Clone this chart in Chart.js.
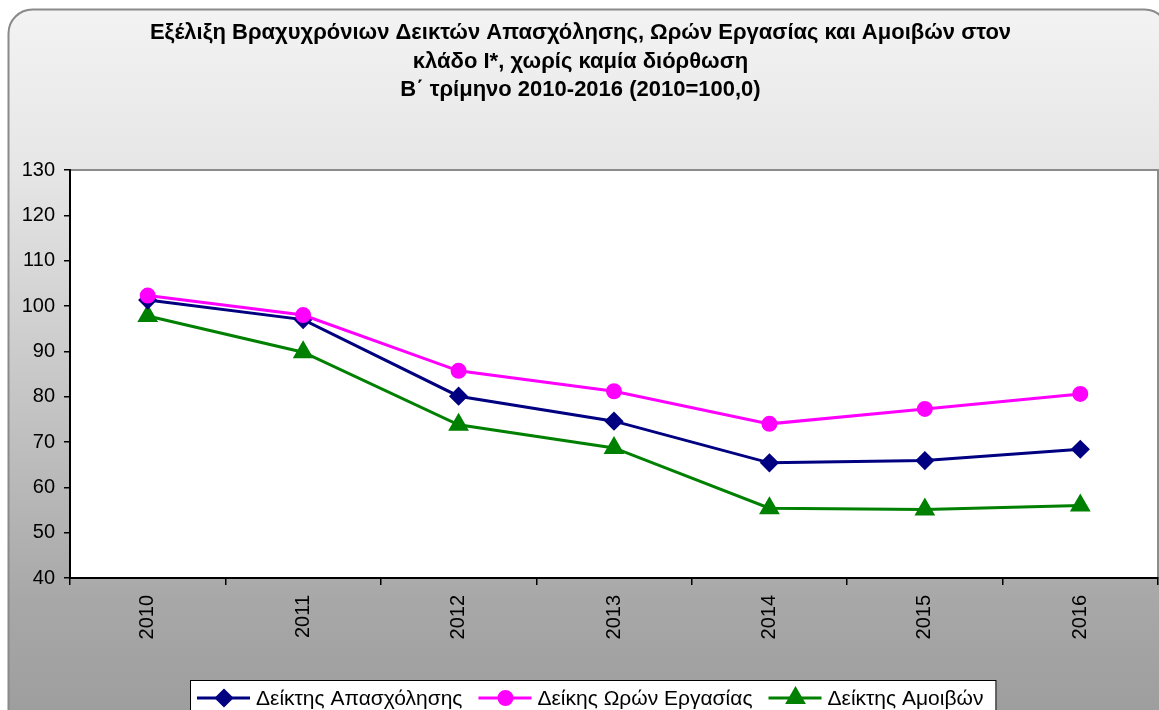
<!DOCTYPE html>
<html>
<head>
<meta charset="utf-8">
<script src="https://cdn.jsdelivr.net/npm/chart.js@4/dist/chart.umd.min.js"></script>
<style>
  html, body { margin: 0; padding: 0; background: #fff; overflow: hidden; }
  #wrap { width: 1170px; height: 710px; }
</style>
</head>
<body>
<div id="wrap"><canvas id="indexChart" width="1170" height="710"></canvas></div>
<script>
const years = ['2010', '2011', '2012', '2013', '2014', '2015', '2016'];
const employment = [101.3, 97.0, 80.1, 74.6, 65.4, 65.9, 68.4];
const workHours = [102.3, 98.0, 85.7, 81.2, 74.0, 77.3, 80.6];
const earnings = [97.8, 89.8, 73.8, 68.7, 55.4, 55.1, 56.0];
const yTicks = [40, 50, 60, 70, 80, 90, 100, 110, 120, 130];

const titleLines = [
    'Εξέλιξη Βραχυχρόνιων Δεικτών Απασχόλησης, Ωρών Εργασίας και Αμοιβών στον',
    'κλάδο Ι*, χωρίς καμία διόρθωση',
    'Β΄ τρίμηνο 2010-2016 (2010=100,0)'
];

const FONT = "'Liberation Sans', Arial, sans-serif";

// background panel + white plot area
const panelPlugin = {
    id: 'panel',
    beforeDraw(chart) {
        const { ctx, chartArea: a } = chart;
        ctx.save();
        const grad = ctx.createLinearGradient(0, 9, 0, 710);
        grad.addColorStop(0, '#f3f3f3');
        grad.addColorStop(0.23, '#e6e6e6');
        grad.addColorStop(0.84, '#a8a8a8');
        grad.addColorStop(1, '#9e9e9e');
        ctx.beginPath();
        ctx.roundRect(8.5, 9.5, 1160, 740, 24);
        ctx.fillStyle = grad;
        ctx.fill();
        ctx.lineWidth = 2;
        ctx.strokeStyle = '#8a8a8a';
        ctx.stroke();

        ctx.fillStyle = '#ffffff';
        ctx.fillRect(a.left, a.top, a.right - a.left, a.bottom - a.top);
        ctx.lineWidth = 2;
        ctx.strokeStyle = '#8c8c8c';
        ctx.strokeRect(a.left, a.top, a.right - a.left, a.bottom - a.top);
        ctx.restore();
    }
};

// legend drawn like the spreadsheet one: line + marker + text in a box
const boxLegendPlugin = {
    id: 'boxLegend',
    afterDraw(chart) {
        const { ctx } = chart;
        const startX = 190, top = 680, cy = 698;
        ctx.save();
        ctx.font = '21px ' + FONT;
        let x = startX + 7;
        const items = chart.data.datasets.map(ds => {
            const w = ctx.measureText(ds.label).width;
            const item = { ds, x, w };
            x += 53 + 6 + w + 16;
            return item;
        });
        const right = x - 16 + 12;
        ctx.fillStyle = '#ffffff';
        ctx.fillRect(startX + 0.5, top + 0.5, right - startX, 60);
        ctx.strokeStyle = '#000';
        ctx.lineWidth = 1;
        ctx.strokeRect(startX + 0.5, top + 0.5, right - startX, 60);

        items.forEach(({ ds, x }) => {
            ctx.strokeStyle = ds.borderColor;
            ctx.lineWidth = 3;
            ctx.beginPath();
            ctx.moveTo(x, cy);
            ctx.lineTo(x + 53, cy);
            ctx.stroke();
            Chart.helpers.drawPoint(ctx, {
                pointStyle: ds.pointStyle,
                radius: ds.pointRadius,
                borderWidth: 1
            }, x + 27, cy);
            ctx.fillStyle = ds.pointBackgroundColor;
            ctx.strokeStyle = ds.pointBackgroundColor;
            ctx.fill();
            ctx.fillStyle = '#000';
            ctx.textBaseline = 'middle';
            ctx.textAlign = 'left';
            ctx.fillText(ds.label, x + 59, cy + 1);
        });
        ctx.restore();
    }
};

function series(label, data, color, style, radius, order) {
    return {
        label, data, order,
        borderColor: color,
        backgroundColor: color,
        pointBackgroundColor: color,
        pointBorderColor: color,
        borderWidth: 3,
        pointStyle: style,
        pointRadius: radius,
        pointHoverRadius: radius,
        tension: 0,
        fill: false
    };
}

new Chart(document.getElementById('indexChart'), {
    type: 'line',
    data: {
        labels: years,
        datasets: [
            series('Δείκτης Απασχόλησης', employment, '#000080', 'rectRot', 7.5, 1),
            series('Δείκης Ωρών Εργασίας', workHours, '#ff00ff', 'circle', 6.5, 0),
            series('Δείκτης Αμοιβών', earnings, '#008000', 'triangle', 9, 2)
        ]
    },
    options: {
        responsive: false,
        animation: false,
        layout: { padding: { left: 0, right: 9, top: 0, bottom: 0 } },
        plugins: {
            legend: { display: false },
            tooltip: { enabled: false },
            title: {
                display: true,
                text: titleLines,
                color: '#000',
                font: { family: FONT, size: 22, weight: 'bold', lineHeight: '28.5px' },
                padding: { top: 19, bottom: 65.5 }
            }
        },
        scales: {
            x: {
                type: 'category',
                offset: true,
                grid: { offset: true, drawOnChartArea: false, tickLength: 7, color: '#000', lineWidth: 1.5 },
                border: { color: '#000', width: 2 },
                ticks: {
                    color: '#000',
                    font: { family: FONT, size: 20 },
                    minRotation: 90,
                    maxRotation: 90,
                    padding: 10
                },
                afterFit(scale) { scale.height = 132; }
            },
            y: {
                min: 40,
                max: 130,
                afterBuildTicks(scale) { scale.ticks = yTicks.map(v => ({ value: v })); },
                grid: { drawOnChartArea: false, tickLength: 6, color: '#000', lineWidth: 1.5 },
                border: { color: '#000', width: 2 },
                ticks: {
                    color: '#000',
                    font: { family: FONT, size: 20 },
                    padding: 9
                },
                afterFit(scale) { scale.width = 70; }
            }
        }
    },
    plugins: [panelPlugin, boxLegendPlugin]
});
</script>
</body>
</html>
